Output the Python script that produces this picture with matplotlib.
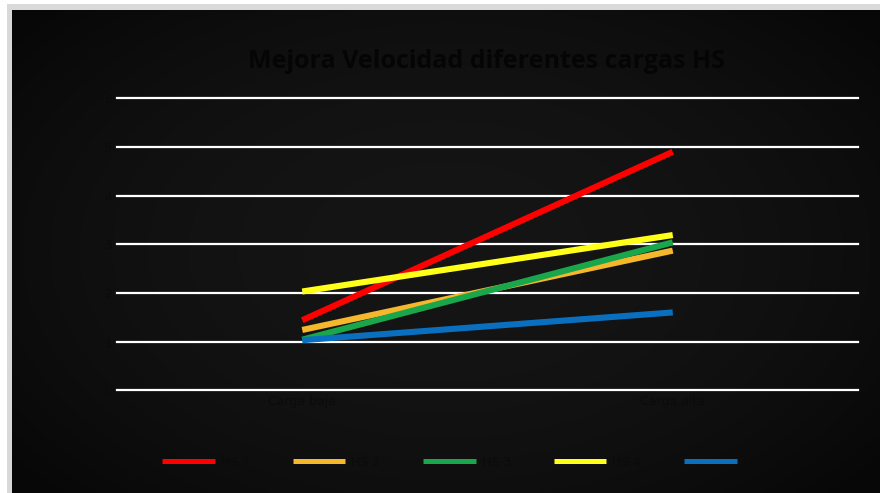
import numpy as np
import matplotlib.pyplot as plt
from matplotlib.patches import Rectangle

# datos (etiquetas en negro, casi invisibles)
categorias = ["Carga baja", "Carga alta"]
series = ["HS 1", "HS 2", "HS 3", "HS 4", "HS 5"]
valores = {
    "HS 1": [1.44, 4.90],
    "HS 2": [1.24, 2.87],
    "HS 3": [1.04, 3.04],
    "HS 4": [2.03, 3.19],
    "HS 5": [1.03, 1.60],
}
colores = ["#ff0000", "#f5b72c", "#1aa64a", "#ffff1a", "#0a6fbf"]
yticks = [0, 1, 2, 3, 4, 5, 6]

W, H = 880, 493
fig = plt.figure(figsize=(W / 100, H / 100), dpi=100)
fig.patch.set_facecolor("white")

# marco gris y fondo con degradado radial suave
fig.patches.append(Rectangle((7 / W, 0), 1, 1 - 4 / H, transform=fig.transFigure,
                             facecolor="#d9d9d9", edgecolor="none", zorder=-5))
bg = fig.add_axes([12 / W, 0, 1 - 12 / W, 1 - 10 / H], zorder=0)
gx, gy = np.meshgrid(np.linspace(-1, 1, 400), np.linspace(-1, 1, 240))
r = np.sqrt((gx * 0.9) ** 2 + (gy * 0.8) ** 2)
shade = np.clip(0.082 - 0.04 * r ** 2, 0.03, 1)
bg.imshow(np.dstack([shade] * 3), aspect="auto", extent=[0, 1, 0, 1])
bg.axis("off")

left, right = 117 / W, 858 / W
bottom, top = (H - 390.3) / H, (H - 98.3) / H
ax = fig.add_axes([left, bottom, right - left, top - bottom], zorder=1)
ax.patch.set_alpha(0)

x = np.arange(len(categorias))
for nombre, c in zip(series, colores):
    ax.plot(x, valores[nombre], color=c, lw=4.4, solid_capstyle="butt",
            label=nombre, zorder=3)

ax.set_xlim(-0.5, 1.5)
ax.set_ylim(0, 6)
ax.set_yticks(yticks)
ax.set_xticks(x)
ax.set_xticklabels(categorias)
ax.tick_params(length=0, colors="#0b0b0b", labelsize=9)
ax.grid(axis="y", color="white", lw=1.6, zorder=1)
ax.set_axisbelow(True)
for gl in ax.get_ygridlines():
    gl.set_clip_on(False)
for s in ax.spines.values():
    s.set_visible(False)

fig.text(0.553, 1 - 62 / H, "Mejora Velocidad diferentes cargas HS",
         ha="center", va="center", fontsize=18, fontweight="bold",
         family="Open Sans", color="#050505")

leg = fig.legend(loc="center", bbox_to_anchor=(0.531, 1 - 462 / H), ncol=5,
                 frameon=False, handlelength=4.2, handletextpad=0.5,
                 columnspacing=3.4, fontsize=9)
for t in leg.get_texts():
    t.set_color("#0b0b0b")
for h in leg.legend_handles:
    h.set_linewidth(3.6)

fig.savefig("out.png", dpi=100)
